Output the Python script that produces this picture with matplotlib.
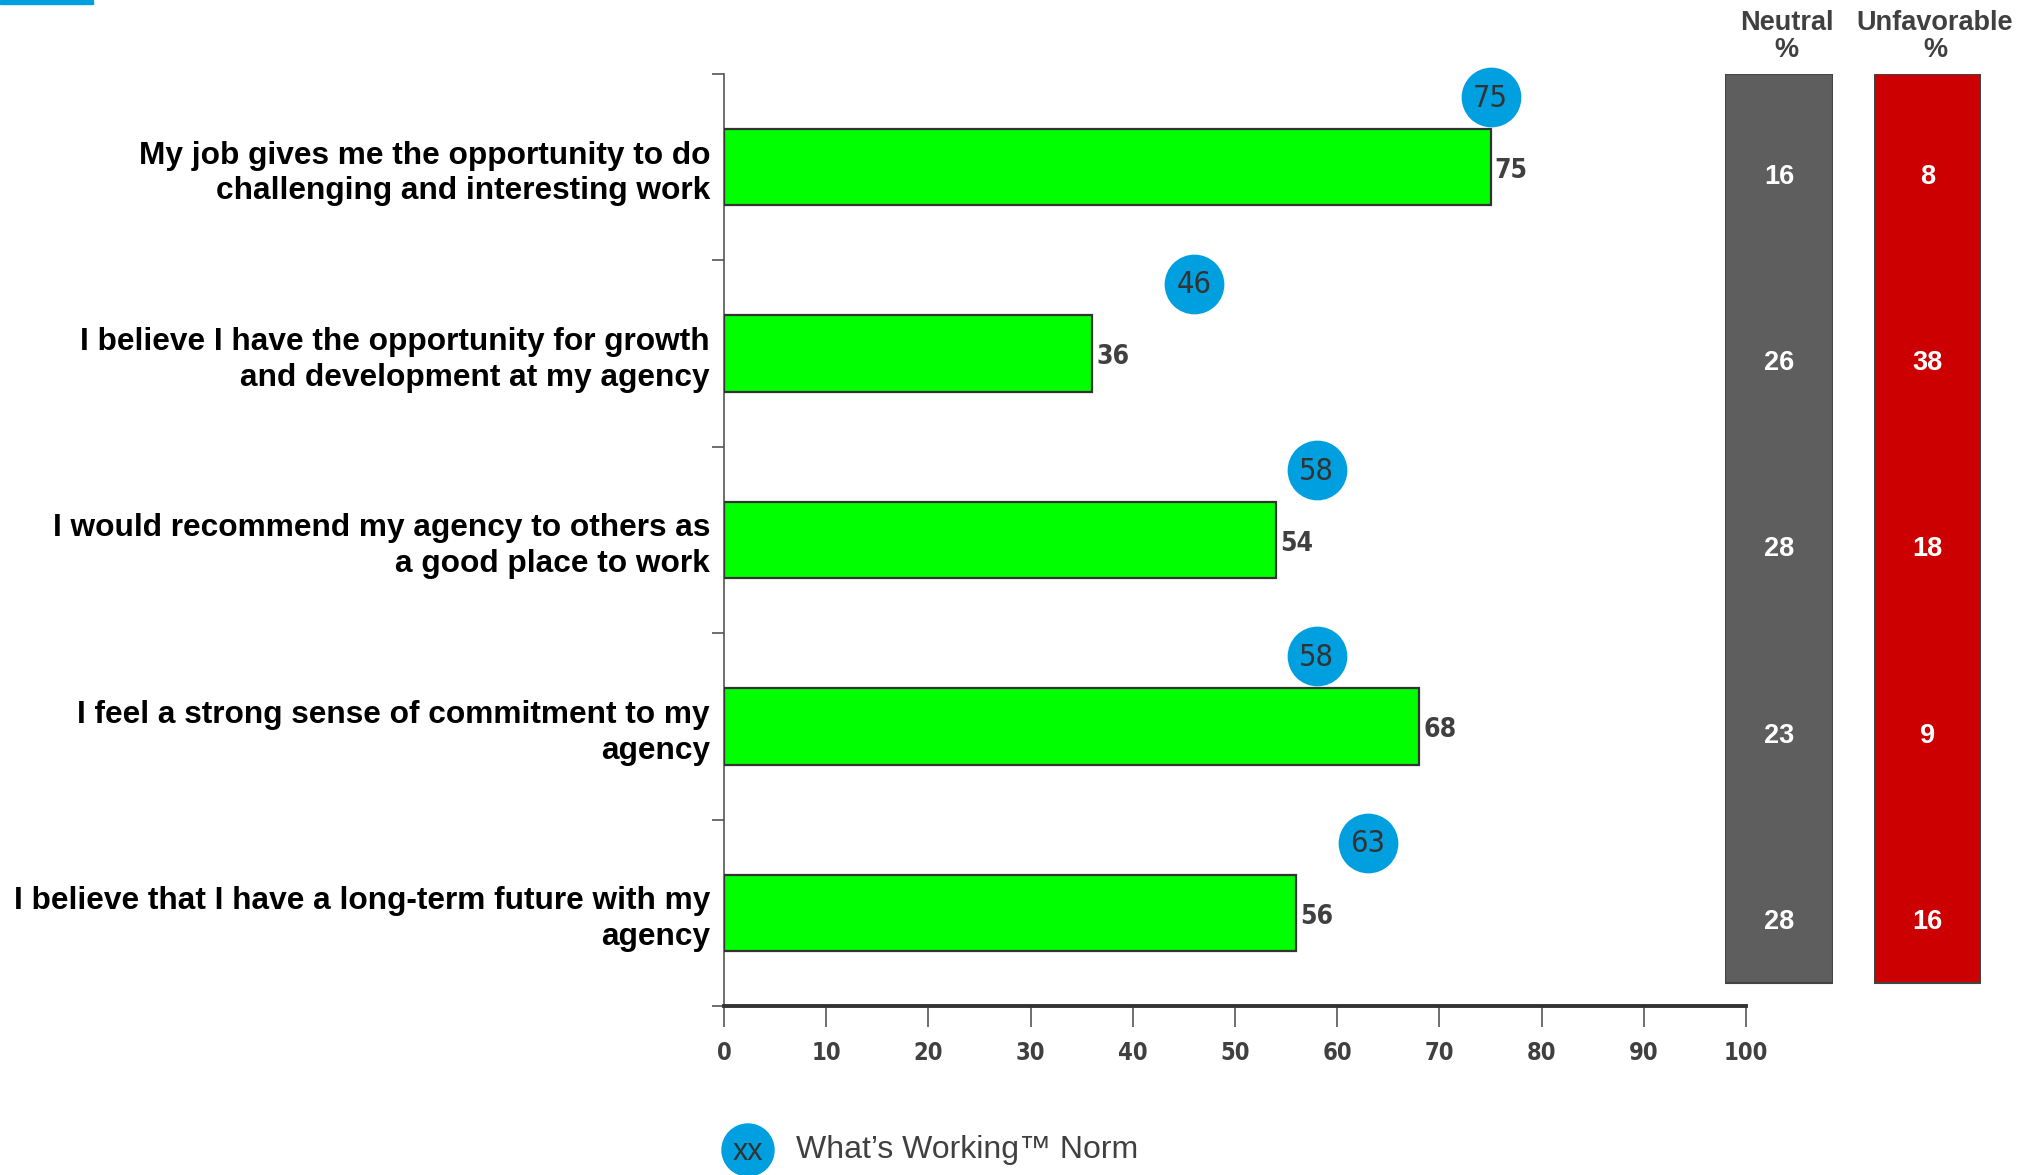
import matplotlib
matplotlib.use("Agg")
import matplotlib.pyplot as plt
from matplotlib.patches import Rectangle, Ellipse
from matplotlib.ticker import FixedLocator

questions = [
    "My job gives me the opportunity to do\nchallenging and interesting work",
    "I believe I have the opportunity for growth\nand development at my agency",
    "I would recommend my agency to others as\na good place to work",
    "I feel a strong sense of commitment to my\nagency",
    "I believe that I have a long-term future with my\nagency",
]
favorable = [75, 36, 54, 68, 56]
norm = [75, 46, 58, 58, 63]
neutral = [16, 26, 28, 23, 28]
unfavorable = [8, 38, 18, 9, 16]
x_ticks = list(range(0, 101, 10))

GREEN = "#00FF00"
BLUE = "#009FDF"
GREY_COL = "#5E5E5E"
RED_COL = "#CC0000"
TXT = "#404040"
NARROW = ["DejaVu Sans"]
BOLD = ["Liberation Sans", "DejaVu Sans"]

W, H = 2028, 1175
fig = plt.figure(figsize=(W / 100, H / 100), dpi=100)

def frac(x0, y0, x1, y1):
    return [x0 / W, 1 - y1 / H, (x1 - x0) / W, (y1 - y0) / H]

# accent strip top-left
fig.patches.append(Rectangle((0, 1 - 4 / H), 93 / W, 4 / H,
                             transform=fig.transFigure, color=BLUE, zorder=5))

ax = fig.add_axes(frac(724, 74, 1746, 1006))
rows = list(range(len(questions)))
ax.barh(rows, favorable, height=0.41, color=GREEN, edgecolor="#333333",
        linewidth=1.6, zorder=3)
ax.set_xlim(0, 100)
ax.set_ylim(len(questions) - 0.5, -0.5)

for i, v in enumerate(favorable):
    ax.text(v + 0.4, i + 0.02, str(v), ha="left", va="center", fontsize=19,
            family=NARROW, fontstretch="condensed", fontweight="bold", color=TXT)

# norm markers
for i, v in enumerate(norm):
    ax.scatter(v, i - 0.375, s=1850, color=BLUE, zorder=4, clip_on=False,
               linewidths=0)
    ax.text(v, i - 0.37, str(v), ha="center", va="center", fontsize=22,
            family=NARROW, fontstretch="condensed", color="#333333", zorder=5)

for s in ["top", "right"]:
    ax.spines[s].set_visible(False)
ax.spines["left"].set_color("#555555")
ax.spines["left"].set_linewidth(1.2)
ax.spines["bottom"].set_color("#333333")
ax.spines["bottom"].set_linewidth(2.8)

ax.set_xticks(x_ticks)
ax.set_xticklabels([str(t) for t in x_ticks], family=NARROW, fontstretch="condensed",
                   fontweight="bold", fontsize=17, color=TXT)
ax.tick_params(axis="x", length=15, width=1.2, color="#555555", pad=10)

ax.set_yticks(rows)
ax.set_yticklabels(questions, fontsize=22.8, fontweight="bold", family=BOLD,
                   color="black", linespacing=1.25)
ax.tick_params(axis="y", which="major", length=0, pad=10)
ax.yaxis.set_minor_locator(FixedLocator([r - 0.5 for r in rows] + [len(rows) - 0.5]))
ax.tick_params(axis="y", which="minor", length=9, width=1.2, color="#555555")

# neutral / unfavorable columns
def column(x0, x1, values, color, title):
    cax = fig.add_axes(frac(x0, 74, x1, 1006))
    cax.set_xlim(0, 1)
    cax.set_ylim(len(values) - 0.5, -0.5)
    cax.axis("off")
    cax.add_patch(Rectangle((0, 0.0247), 1, 0.9753, transform=cax.transAxes,
                            facecolor=color, edgecolor="#444444", linewidth=1.5))
    for i, v in enumerate(values):
        cax.text(0.5, i + 0.05, str(v), ha="center", va="center", fontsize=19.5,
                 fontweight="bold", family=BOLD, color="white")
    cax.text(0.57, 1.012, title, transform=cax.transAxes, ha="center", va="bottom",
             fontsize=19.5, fontweight="bold", family=BOLD, color=TXT,
             linespacing=1.05)

column(1725, 1833, neutral, GREY_COL, "Neutral\n%")
column(1874, 1981, unfavorable, RED_COL, "Unfavorable\n%")

# legend
fig.patches.append(Ellipse((748 / W, 1 - 1150 / H), 52 / W, 52 / H,
                           transform=fig.transFigure, color=BLUE))
fig.text(748 / W, 1 - 1152 / H, "xx", ha="center", va="center", fontsize=22,
         color="#333333", family=BOLD)
fig.text(796 / W, 1 - 1150 / H, "What\u2019s Working\u2122 Norm", ha="left",
         va="center", fontsize=23, color=TXT, family=BOLD)

fig.savefig("out.png", dpi=100)
